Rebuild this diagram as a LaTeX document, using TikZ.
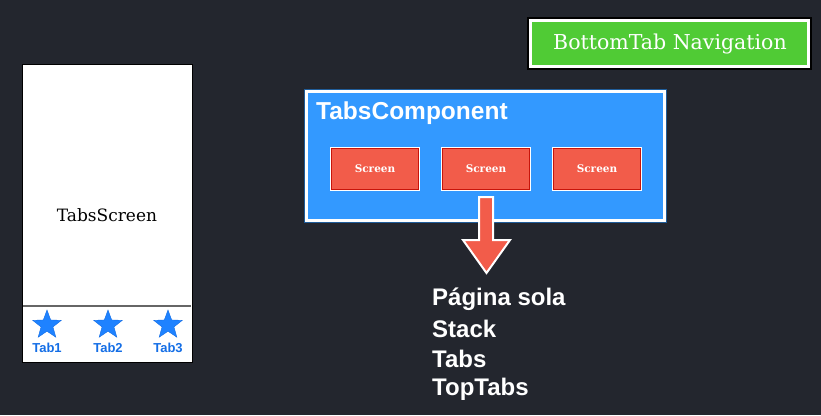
\documentclass[tikz,border=0pt]{standalone}
\usepackage{fontspec}
\setmainfont{Liberation Sans}
\newfontfamily\slab{DejaVu Serif}
\usetikzlibrary{shapes.geometric,calc}
\definecolor{bg}{RGB}{35,38,46}
\definecolor{grn}{RGB}{80,203,53}
\definecolor{blu}{RGB}{51,153,255}
\definecolor{scr}{RGB}{242,92,74}
\definecolor{scrd}{RGB}{200,20,10}
\definecolor{tabblue}{RGB}{20,110,230}
\definecolor{starblue}{RGB}{30,130,255}
\tikzset{
  framebox/.style={draw=white, line width=3pt, inner sep=0pt},
  screenbox/.style={draw=white, line width=2.5pt, fill=scr, minimum width=88pt, minimum height=42pt,
    font=\slab\bfseries\fontsize{10.5}{12}\selectfont, text=white},
  innerline/.style={scrd, line width=0.7pt},
  tabstar/.style={star, star points=5, star point ratio=2.4, fill=starblue, draw=tabblue, line width=0.4pt,
    minimum size=30pt, inner sep=0pt},
  tablabel/.style={font=\bfseries\fontsize{13}{14}\selectfont, text=tabblue},
  listtext/.style={font=\bfseries\fontsize{24}{26}\selectfont, text=white, anchor=west, inner sep=0pt}
}
\begin{document}
\begin{tikzpicture}[x=1pt,y=-1pt]
\fill[bg] (0,0) rectangle (821,415);
\useasboundingbox (0,0) rectangle (821,415);
% phone
\draw[black, line width=1pt, fill=white] (22,64) rectangle (192,362);
\node[font=\slab\fontsize{17}{18}\selectfont] (tsc) at (107,215) {TabsScreen};
\coordinate (sepL) at (23,306);
\coordinate (sepR) at (191,306);
\draw[gray!80!black, line width=1.2pt] (sepL) -- (sepR);
\node[tabstar] (s1) at (47,325) {};
\node[tabstar] (s2) at (108,325) {};
\node[tabstar] (s3) at (168,325) {};
\node[tablabel] (t1) at (47,348) {Tab1};
\node[tablabel] (t2) at (108,348) {Tab2};
\node[tablabel] (t3) at (168,348) {Tab3};
% green
\fill[black] (527,17) rectangle (812,70);
\draw[framebox, fill=grn] (530,20) rectangle (808,66);
\node[font=\slab\fontsize{20.5}{22}\selectfont, text=white] (bt) at (670,44) {BottomTab Navigation};
% blue
\fill[blu!60!black] (304,89) rectangle (667,223);
\draw[framebox, fill=blu] (306,91) rectangle (664,220);
\node[font=\bfseries\fontsize{24.5}{26}\selectfont, text=white, anchor=west, inner sep=0pt] (tc) at (316,113.5) {TabsComponent};
\node[screenbox] (sc1) at (375,169) {Screen};
\node[screenbox] (sc2) at (486,169) {Screen};
\node[screenbox] (sc3) at (597,169) {Screen};
\foreach \s in {sc1,sc2,sc3}
  \draw[innerline] ($(\s.north west)+(1.8,1.8)$) rectangle ($(\s.south east)+(-1.8,-1.8)$);
% arrow
\draw[white, line width=2pt, fill=scr, line join=miter]
  (479,197) -- (493,197) -- (493,240) -- (510,240) -- (486.5,273) -- (463,240) -- (479,240) -- cycle;
% list
\node[listtext] (l1) at (432,299) {Página sola};
\node[listtext] (l2) at (432,329) {Stack};
\node[listtext] (l3) at (432,359) {Tabs};
\node[listtext] (l4) at (432,389) {TopTabs};
\end{tikzpicture}
\end{document}
